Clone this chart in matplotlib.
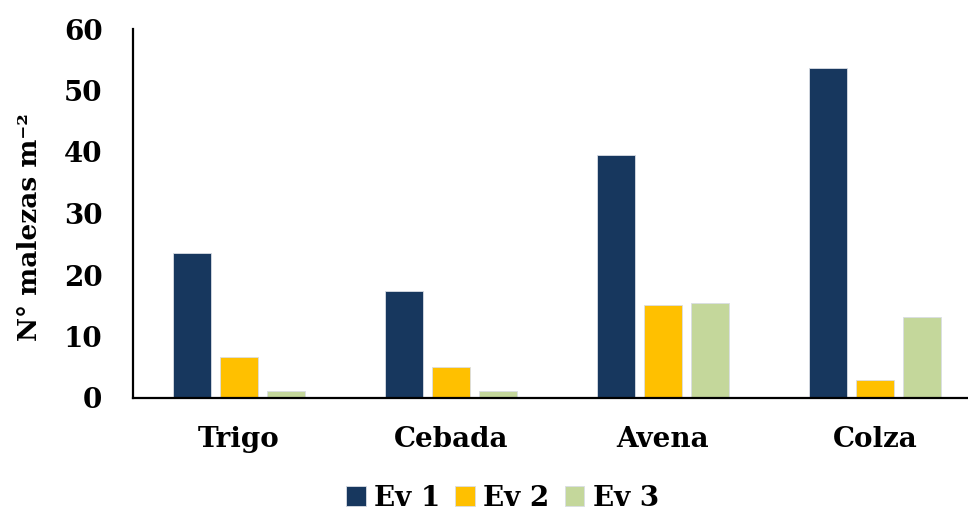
import matplotlib.pyplot as plt
import numpy as np

# values
cultivos = ["Trigo", "Cebada", "Avena", "Colza"]
ev1 = [23.6, 17.4, 39.5, 53.7]
ev2 = [6.7, 5.0, 15.1, 2.9]
ev3 = [1.1, 1.1, 15.4, 13.2]
series_names = ["Ev 1", "Ev 2", "Ev 3"]
colores = ["#17375E", "#FFC000", "#C4D79B"]
yticks = [0, 10, 20, 30, 40, 50, 60]

plt.rcParams["font.family"] = ["DejaVu Serif"]
plt.rcParams["font.weight"] = "bold"

fig = plt.figure(figsize=(9.68, 5.13), dpi=100)
ax = fig.add_axes([133 / 968, 1 - 398 / 513, 848 / 968, 369 / 513])

x = np.arange(len(cultivos))
ancho = 0.182
sep = 0.222
for i, (vals, nombre, col) in enumerate(zip([ev1, ev2, ev3], series_names, colores)):
    ax.bar(x + (i - 1) * sep, vals, width=ancho, color=col, label=nombre,
           edgecolor="#d9dde4", linewidth=0.6, zorder=2)

ax.set_xlim(-0.5, 3.5)
ax.set_ylim(0, 60)
ax.set_yticks(yticks)
ax.set_xticks(x)
ax.set_xticklabels(cultivos, fontsize=20, fontweight="bold")
ax.tick_params(axis="y", length=0, pad=22, labelsize=20)
ax.tick_params(axis="x", length=0, pad=20)
for lab in ax.get_yticklabels():
    lab.set_fontweight("bold")

for s in ["top", "right"]:
    ax.spines[s].set_visible(False)
ax.spines["left"].set_linewidth(1.6)
ax.spines["bottom"].set_linewidth(1.6)
ax.spines["bottom"].set_zorder(3)

ax.set_ylabel("N° malezas m⁻²", fontsize=19, fontweight="bold")
ax.yaxis.set_label_coords(-0.107, 0.463)

fig.legend(loc="center", bbox_to_anchor=(0.519, 1 - 498 / 513), ncol=3, frameon=False,
           handlelength=0.7, handleheight=0.7, handletextpad=0.3,
           columnspacing=0.55, prop={"weight": "bold", "size": 20})

fig.savefig("out.png", dpi=100)
